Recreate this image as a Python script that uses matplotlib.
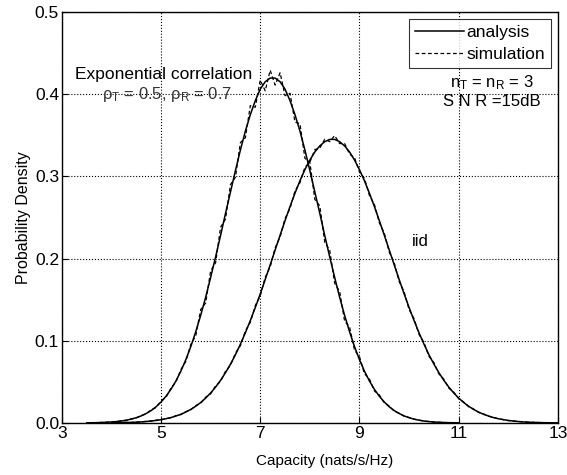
import matplotlib
matplotlib.use("Agg")
import matplotlib.pyplot as plt
import numpy as np

plt.rcParams['font.family'] = ['Liberation Sans', 'DejaVu Sans']
plt.rcParams['mathtext.fontset'] = 'custom'
plt.rcParams['mathtext.rm'] = 'Liberation Sans'
plt.rcParams['mathtext.it'] = 'Liberation Sans:italic'

# exponential correlation, analysis and simulation (x = 3.5 .. 11.0 step 0.1)
corr_x = np.round(np.arange(3.5, 11.01, 0.1), 2)
corr_ana = [0.0002, 0.0003, 0.0004, 0.0006, 0.0009,
            0.0012, 0.0017, 0.0024, 0.0034, 0.0047, 0.0064, 0.0086, 0.0115, 0.0151, 0.0197,
            0.0255, 0.0325, 0.0410, 0.0511, 0.0631, 0.0770, 0.0929, 0.111, 0.131, 0.153,
            0.177, 0.202, 0.228, 0.255, 0.281, 0.307, 0.332, 0.355, 0.375, 0.392,
            0.406, 0.415, 0.4195, 0.4195, 0.415, 0.406, 0.392, 0.375, 0.355, 0.332,
            0.307, 0.281, 0.255, 0.228, 0.202, 0.177, 0.153, 0.131, 0.111, 0.0929,
            0.0770, 0.0631, 0.0511, 0.0410, 0.0325, 0.0255, 0.0197, 0.0151, 0.0115, 0.0086,
            0.0064, 0.0047, 0.0034, 0.0024, 0.0017, 0.0012, 0.0008, 0.0006, 0.0004, 0.0003,
            0.0002]
corr_sim = [0.0002, 0.0004, 0.0003, 0.0007, 0.0008,
            0.0014, 0.0016, 0.0027, 0.0031, 0.0050, 0.0061, 0.0090, 0.0111, 0.0160, 0.0188,
            0.0268, 0.0312, 0.0425, 0.0497, 0.0650, 0.0748, 0.0955, 0.106, 0.138, 0.146,
            0.185, 0.195, 0.238, 0.248, 0.290, 0.299, 0.341, 0.347, 0.386, 0.384,
            0.417, 0.404, 0.429, 0.411, 0.426, 0.398, 0.401, 0.366, 0.364, 0.322,
            0.317, 0.272, 0.264, 0.220, 0.210, 0.170, 0.160, 0.124, 0.117, 0.0885,
            0.0808, 0.0598, 0.0538, 0.0390, 0.0342, 0.0243, 0.0206, 0.0144, 0.0120, 0.0082,
            0.0067, 0.0045, 0.0036, 0.0022, 0.0018, 0.0011, 0.0009, 0.0005, 0.0004, 0.0002,
            0.0002]

# iid, analysis and simulation (x = 4.0 .. 13.0 step 0.1)
iid_x = np.round(np.arange(4.0, 13.01, 0.1), 2)
iid_ana = [0.0002, 0.0003, 0.0004, 0.0006, 0.0007, 0.0010, 0.0013, 0.0018, 0.0024, 0.0031,
           0.0040, 0.0052, 0.0066, 0.0085, 0.0106, 0.0133, 0.0165, 0.0204, 0.0249, 0.0303,
           0.0365, 0.0437, 0.0519, 0.0612, 0.0716, 0.0830, 0.0959, 0.1097, 0.1246, 0.1404,
           0.1570, 0.1745, 0.1923, 0.2104, 0.2284, 0.2461, 0.2633, 0.2795, 0.2946, 0.3081,
           0.3198, 0.3296, 0.3370, 0.3421, 0.3449, 0.3449, 0.3421, 0.3370, 0.3296, 0.3198,
           0.3081, 0.2946, 0.2795, 0.2633, 0.2461, 0.2284, 0.2104, 0.1923, 0.1745, 0.1570,
           0.1404, 0.1246, 0.1097, 0.0959, 0.0830, 0.0716, 0.0612, 0.0519, 0.0437, 0.0365,
           0.0303, 0.0249, 0.0204, 0.0165, 0.0133, 0.0106, 0.0085, 0.0066, 0.0052, 0.0040,
           0.0031, 0.0024, 0.0018, 0.0013, 0.0010, 0.0007, 0.0006, 0.0004, 0.0003, 0.0002,
           0.0002]
iid_sim = [0.0002, 0.0004, 0.0003, 0.0007, 0.0006, 0.0012, 0.0012, 0.0020, 0.0022, 0.0034,
           0.0038, 0.0055, 0.0063, 0.0089, 0.0102, 0.0138, 0.0161, 0.0212, 0.0241, 0.0314,
           0.0355, 0.0451, 0.0506, 0.0630, 0.0700, 0.0850, 0.0940, 0.1120, 0.1225, 0.1428,
           0.1546, 0.1772, 0.1898, 0.2130, 0.2262, 0.2488, 0.2608, 0.2822, 0.2922, 0.3110,
           0.3172, 0.3325, 0.3342, 0.3452, 0.3422, 0.3495, 0.3398, 0.3400, 0.3270, 0.3228,
           0.3054, 0.2975, 0.2768, 0.2660, 0.2435, 0.2310, 0.2078, 0.1950, 0.1720, 0.1596,
           0.1380, 0.1268, 0.1076, 0.0980, 0.0810, 0.0735, 0.0596, 0.0534, 0.0424, 0.0376,
           0.0295, 0.0256, 0.0198, 0.0170, 0.0128, 0.0110, 0.0082, 0.0069, 0.0050, 0.0042,
           0.0029, 0.0025, 0.0017, 0.0014, 0.0009, 0.0008, 0.0005, 0.0004, 0.0003, 0.0002,
           0.0002]

fig = plt.figure(figsize=(5.67, 4.75), dpi=100)
ax = fig.add_axes([0.109, 0.1095, 0.875, 0.8655])

ax.plot(corr_x, corr_ana, '-', color='black', lw=1.1, label='analysis')
ax.plot(iid_x, iid_ana, '-', color='black', lw=1.1)
ax.plot(corr_x, corr_sim, '--', color='black', lw=0.9, dashes=(3, 2), label='simulation')
ax.plot(iid_x, iid_sim, '--', color='black', lw=0.9, dashes=(3, 2))

ax.set_xlim(3, 13)
ax.set_ylim(0, 0.5)
ax.set_xticks([3, 5, 7, 9, 11, 13])
ax.set_yticks([0.0, 0.1, 0.2, 0.3, 0.4, 0.5])
ax.set_yticklabels(['0.0', '0.1', '0.2', '0.3', '0.4', '0.5'])
ax.tick_params(direction='in', labelsize=12.5, length=4, pad=2)
ax.grid(True, color='black', linestyle=':', linewidth=0.8)
for s in ax.spines.values():
    s.set_linewidth(1.0)

ax.set_xlabel('Capacity (nats/s/Hz)', fontsize=11, labelpad=6)
ax.set_ylabel('Probability Density', fontsize=11.5, labelpad=3)
ax.xaxis.set_label_coords(0.53, -0.075)

ax.text(3.26, 0.4235, 'Exponential correlation', fontsize=12.5, va='center', ha='left')
ax.text(3.81, 0.400, 'ρ$_\\mathrm{T}$ = 0.5, ρ$_\\mathrm{R}$ = 0.7', fontsize=12,
        va='center', ha='left', color='#333333')
ax.text(10.05, 0.221, 'iid', fontsize=12, va='center', ha='left')
ax.text(11.66, 0.414, 'n$_\\mathrm{T}$ = n$_\\mathrm{R}$ = 3', fontsize=12, va='center', ha='center')
ax.text(11.66, 0.391, 'S N R =15dB', fontsize=12, va='center', ha='center')

leg = ax.legend(loc='upper right', fontsize=12.5, frameon=True, fancybox=False,
                edgecolor='black', handlelength=2.8, borderaxespad=0.4,
                borderpad=0.35, handletextpad=0.15, labelspacing=0.38)
leg.get_frame().set_linewidth(0.8)

fig.savefig('out.png', dpi=100)
